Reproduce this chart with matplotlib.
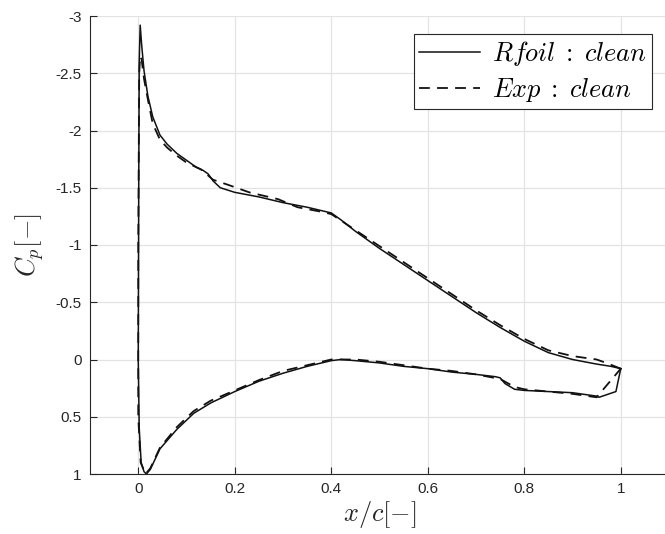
import numpy as np
import matplotlib
matplotlib.use("Agg")
import matplotlib.pyplot as plt

# Rfoil prediction, upper side from TE to LE then lower side back to TE
rfoil_x = [1.0, 0.98, 0.95, 0.9, 0.85, 0.8, 0.75, 0.7, 0.65, 0.6, 0.55, 0.5, 0.45, 0.42, 0.40,
           0.35, 0.30, 0.25, 0.20, 0.17, 0.155, 0.145, 0.135, 0.12, 0.10, 0.08, 0.06, 0.045,
           0.03, 0.02, 0.012, 0.007, 0.004, 0.002, 0.001, 0.0,
           0.002, 0.006, 0.012, 0.017, 0.025, 0.045, 0.08, 0.115, 0.15, 0.2, 0.25, 0.3, 0.35,
           0.4, 0.42, 0.45, 0.5, 0.55, 0.6, 0.65, 0.7, 0.74, 0.75, 0.76, 0.78, 0.8, 0.85, 0.9,
           0.95, 0.955, 0.99, 1.0]
rfoil_cp = [0.08, 0.06, 0.04, 0.0, -0.06, -0.16, -0.28, -0.41, -0.55, -0.69, -0.83, -0.97, -1.12, -1.22, -1.28,
            -1.33, -1.37, -1.42, -1.46, -1.50, -1.56, -1.62, -1.65, -1.68, -1.74, -1.80, -1.88, -1.96,
            -2.12, -2.30, -2.52, -2.75, -2.92, -2.6, -1.5, 0.0,
            0.6, 0.9, 0.98, 1.0, 0.96, 0.78, 0.61, 0.47, 0.38, 0.28, 0.19, 0.12, 0.06,
            0.01, 0.0, 0.01, 0.03, 0.06, 0.08, 0.11, 0.13, 0.15, 0.16, 0.21, 0.26, 0.27, 0.28, 0.29,
            0.32, 0.33, 0.28, 0.08]

# experiment
exp_x = [1.0, 0.97, 0.95, 0.9, 0.85, 0.8, 0.75, 0.7, 0.65, 0.6, 0.55, 0.5, 0.45, 0.4, 0.38,
         0.33, 0.29, 0.23, 0.19, 0.155, 0.13, 0.10, 0.08, 0.06, 0.045, 0.03, 0.02, 0.012,
         0.007, 0.004, 0.002, 0.0, 0.0,
         0.005, 0.015, 0.025, 0.045, 0.08, 0.115, 0.15, 0.2, 0.25, 0.3, 0.35, 0.4, 0.45,
         0.5, 0.55, 0.6, 0.65, 0.7, 0.75, 0.78, 0.8, 0.85, 0.9, 0.95, 1.0]
exp_cp = [0.08, 0.03, 0.0, -0.03, -0.08, -0.18, -0.30, -0.43, -0.57, -0.71, -0.85, -0.99, -1.13, -1.27, -1.29,
          -1.33, -1.40, -1.46, -1.52, -1.57, -1.66, -1.72, -1.78, -1.85, -1.92, -2.06, -2.27, -2.45,
          -2.62, -2.65, -2.5, -1.0, 0.5,
          0.9, 1.0, 0.95, 0.77, 0.59, 0.45, 0.36, 0.27, 0.18, 0.10, 0.05, 0.0, 0.0,
          0.02, 0.05, 0.08, 0.10, 0.13, 0.17, 0.24, 0.26, 0.28, 0.30, 0.33, 0.08]

xticks = [0, 0.2, 0.4, 0.6, 0.8, 1]
yticks = [-3, -2.5, -2, -1.5, -1, -0.5, 0, 0.5, 1]

plt.rcParams['font.family'] = ['Liberation Sans', 'DejaVu Sans']
plt.rcParams['mathtext.fontset'] = 'cm'
plt.rcParams['axes.unicode_minus'] = False

fig = plt.figure(figsize=(6.65, 5.34), dpi=100)
W, H = 665, 534
ax = fig.add_axes([90 / W, (H - 474) / H, (669 - 90) / W, 458 / H])

ax.plot(rfoil_x, rfoil_cp, color='#111111', lw=1.1, label=r'$Rfoil\;:\;clean$')
ax.plot(exp_x, exp_cp, color='#111111', lw=1.3, ls=(0, (6, 4)), label=r'$Exp\;:\;clean$')

ax.set_xlim(-0.1, 1.1)
ax.set_ylim(1, -3)
ax.set_xticks(xticks)
ax.set_xticklabels([f'{t:g}' for t in xticks])
ax.set_yticks(yticks)
ax.set_yticklabels([f'{t:g}' for t in yticks])

ax.grid(True, color='#e3e3e3', lw=0.9)
ax.set_axisbelow(True)
for s in ['top', 'right']:
    ax.spines[s].set_visible(False)
for s in ['left', 'bottom']:
    ax.spines[s].set_color('#262626')
    ax.spines[s].set_linewidth(0.8)
ax.tick_params(direction='in', length=5, width=0.8, color='#262626',
               labelcolor='#262626', labelsize=11, pad=6)

ax.set_xlabel(r'$x/c[-]$', fontsize=19, color='#262626')
ax.xaxis.label.set_va('center')
ax.xaxis.set_label_coords(0.5, -0.0895)
ax.set_ylabel(r'$C_p[-]$', fontsize=19, color='#262626')
ax.yaxis.label.set_va('center')
ax.yaxis.set_label_coords(-0.105, 0.5)

leg = ax.legend(loc='upper right', bbox_to_anchor=(652 / W, 1 - 34 / H),
                bbox_transform=fig.transFigure, borderaxespad=0, fontsize=19,
                handlelength=2.3, handletextpad=0.45, fancybox=False, framealpha=1,
                borderpad=0.2, labelspacing=0.3)
leg.get_frame().set_edgecolor('#262626')
leg.get_frame().set_linewidth(0.8)

fig.savefig('out.png', dpi=100)
